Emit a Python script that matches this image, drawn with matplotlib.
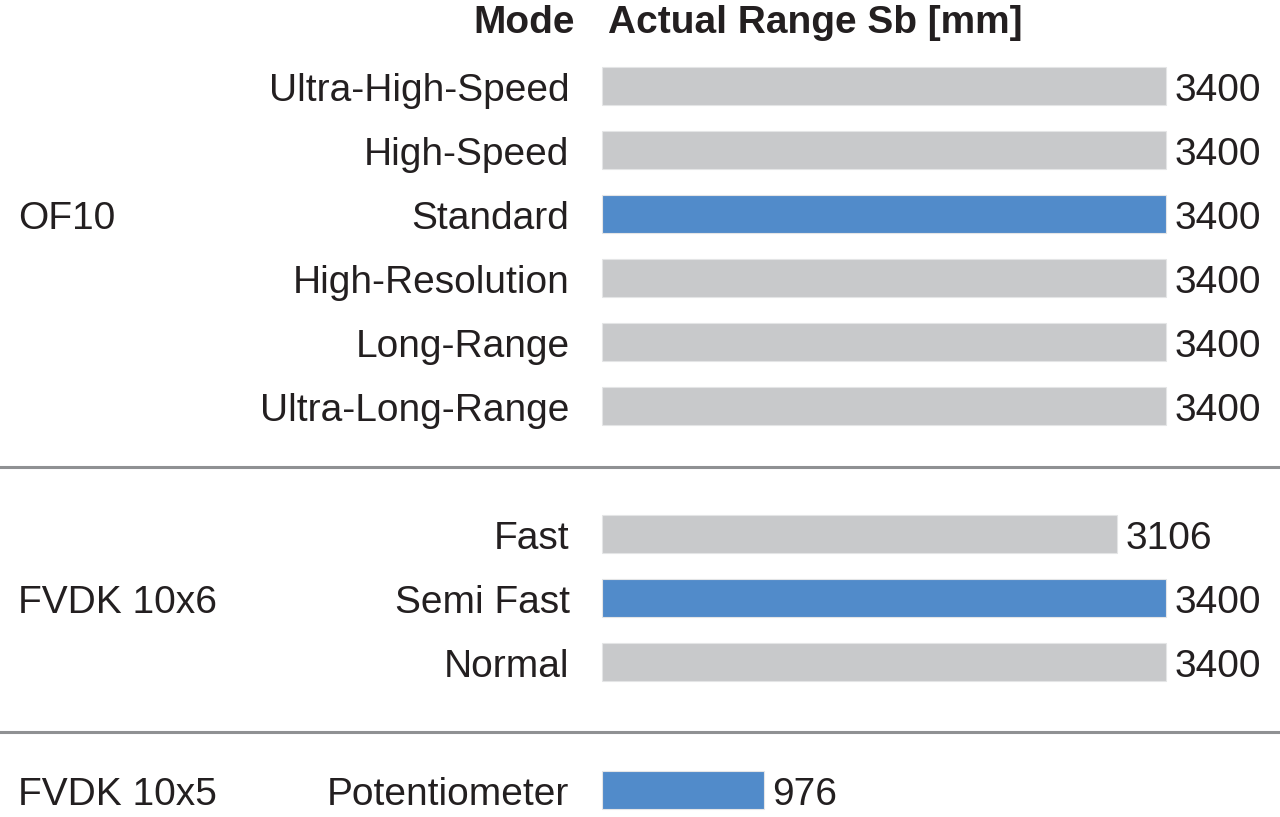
import matplotlib.pyplot as plt
from matplotlib.transforms import blended_transform_factory

plt.rcParams['font.family'] = ['Liberation Sans', 'DejaVu Sans']

# data
groups = ['OF10', 'FVDK 10x6', 'FVDK 10x5']
modes = [
    ['Ultra-High-Speed', 'High-Speed', 'Standard', 'High-Resolution', 'Long-Range', 'Ultra-Long-Range'],
    ['Fast', 'Semi Fast', 'Normal'],
    ['Potentiometer'],
]
ranges = [
    [3400, 3400, 3400, 3400, 3400, 3400],
    [3106, 3400, 3400],
    [976],
]
highlight = [
    [False, False, True, False, False, False],
    [False, True, False],
    [True],
]

grey = '#c8c9cb'
blue = '#518bca'
txt = '#231f20'
fs = 28
base = 0.24  # baseline offset below the row centre, in rows

fig = plt.figure(figsize=(12.8, 8.17), dpi=100)
ax = fig.add_axes([0, 0, 1, 1])
ax.set_axis_off()

# one row = 64 px, first row centre at 86 px, bar starts at 602 px
ax.set_xlim(-602 * 3400 / 564, (1280 - 602) * 3400 / 564)
ax.set_ylim((817 - 86) / 64, -86 / 64)
tr = blended_transform_factory(ax.transAxes, ax.transData)

group_gap = 2
sep_shift = [-0.05, 0.09]
pos = 0
for gi, (g, ms, vals, hl) in enumerate(zip(groups, modes, ranges, highlight)):
    ys = [pos + i for i in range(len(ms))]
    ax.barh(ys, vals, height=0.59, left=0,
            color=[blue if h else grey for h in hl],
            edgecolor='#e4e5e6', linewidth=0.8)
    for y, m, v in zip(ys, ms, vals):
        ax.text(0.445, y + base, m, transform=tr, ha='right', va='baseline',
                fontsize=fs, color=txt)
        ax.text(v + 50, y + base, f'{v}', ha='left', va='baseline',
                fontsize=fs, color=txt)
    # the group name sits on the highlighted row
    gy = ys[hl.index(True)]
    ax.text(0.014, gy + base, g, transform=tr, ha='left',
            va='baseline', fontsize=fs, color=txt)
    pos = ys[-1] + group_gap
    if gi < len(groups) - 1:
        ax.axhline(ys[-1] + group_gap / 2 + sep_shift[gi], color='#8f9193',
                   linewidth=2.2)

ax.text(0.449, -0.83, 'Mode', transform=tr, ha='right', va='baseline',
        fontsize=fs, fontweight='bold', color=txt)
ax.text(0.475, -0.83, 'Actual Range Sb [mm]', transform=tr, ha='left',
        va='baseline', fontsize=fs, fontweight='bold', color=txt)

fig.savefig('out.png', dpi=100)
